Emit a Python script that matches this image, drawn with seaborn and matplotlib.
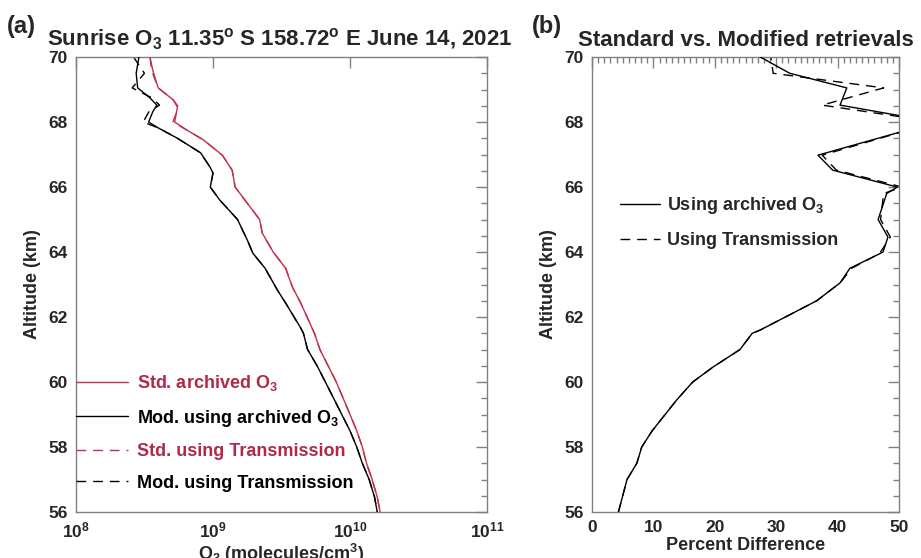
import numpy as np
import matplotlib
matplotlib.use("Agg")
import matplotlib.pyplot as plt
import seaborn as sns
from matplotlib.ticker import MultipleLocator, FixedLocator, FuncFormatter, NullLocator

# ---- panel (a): O3 number density profiles (molecules/cm^3) ----
alt_mod = [70.0, 69.5, 69.05, 68.74, 68.52, 68.31, 68.0, 67.82, 67.5, 67.05,
           66.6, 66.43, 66.0, 65.6, 65.0, 64.37, 63.97, 63.5, 62.83, 62.43,
           61.66, 61.5, 61.0, 60.5, 60.0, 59.5, 59.0, 58.5, 58.0, 57.5,
           57.0, 56.46, 56.0]
mod_archived = [2.88e8, 2.75e8, 2.82e8, 3.47e8, 3.89e8, 3.63e8, 3.39e8, 3.98e8, 5.50e8, 8.13e8,
                9.55e8, 1.00e9, 9.55e8, 1.12e9, 1.51e9, 1.78e9, 1.95e9, 2.40e9, 2.95e9, 3.39e9,
                4.37e9, 4.57e9, 4.90e9, 5.75e9, 6.61e9, 7.59e9, 8.71e9, 1.00e10, 1.12e10, 1.23e10,
                1.38e10, 1.51e10, 1.58e10]
mod_transmission = [2.63e8, 3.16e8, 2.57e8, 3.60e8, 4.07e8, 3.40e8, 3.09e8, 3.98e8, 5.50e8, 8.13e8,
                    9.55e8, 1.00e9, 9.55e8, 1.12e9, 1.51e9, 1.78e9, 1.95e9, 2.40e9, 2.95e9, 3.39e9,
                    4.37e9, 4.57e9, 4.90e9, 5.75e9, 6.61e9, 7.59e9, 8.71e9, 1.00e10, 1.12e10, 1.23e10,
                    1.38e10, 1.51e10, 1.58e10]

alt_std = [70.0, 69.6, 69.05, 68.68, 68.46, 68.0, 67.75, 67.45, 66.98, 66.52,
           66.0, 65.5, 65.0, 64.58, 64.0, 63.5, 62.92, 62.43, 61.5, 61.0,
           60.5, 60.0, 59.5, 59.0, 58.5, 58.0, 57.5, 57.0, 56.46, 56.0]
std_archived = [3.47e8, 3.63e8, 3.98e8, 5.13e8, 5.50e8, 5.25e8, 6.46e8, 8.51e8, 1.17e9, 1.38e9,
                1.45e9, 1.78e9, 2.19e9, 2.29e9, 2.75e9, 3.39e9, 3.80e9, 4.37e9, 5.50e9, 6.03e9,
                6.92e9, 7.94e9, 8.91e9, 1.00e10, 1.12e10, 1.23e10, 1.32e10, 1.45e10, 1.58e10, 1.66e10]
std_transmission = [3.47e8, 3.55e8, 3.98e8, 5.13e8, 5.60e8, 5.10e8, 6.46e8, 8.51e8, 1.17e9, 1.38e9,
                    1.45e9, 1.78e9, 2.19e9, 2.29e9, 2.75e9, 3.39e9, 3.80e9, 4.37e9, 5.50e9, 6.03e9,
                    6.92e9, 7.94e9, 8.91e9, 1.00e10, 1.12e10, 1.23e10, 1.32e10, 1.45e10, 1.58e10, 1.66e10]

# ---- panel (b): percent difference standard vs modified ----
alt_pd = [70.2, 69.5, 69.05, 68.52, 68.0, 66.98, 66.52, 66.0, 65.8, 65.0,
          64.46, 64.0, 63.85, 63.5, 63.05, 62.5, 61.6, 61.5, 61.0, 60.46,
          60.0, 59.45, 58.5, 58.0, 57.5, 57.0, 56.0]
pd_archived = [25.5, 32.2, 41.5, 40.4, 56.0, 36.8, 39.2, 49.7, 48.0, 46.6,
               48.2, 47.4, 45.8, 42.0, 40.4, 36.6, 27.4, 26.1, 24.1, 19.7,
               16.4, 13.8, 9.8, 8.1, 7.3, 5.7, 4.3]
pd_transmission = [29.0, 29.5, 47.5, 37.5, 56.0, 37.5, 39.8, 50.5, 47.5, 47.0,
                   48.6, 47.0, 45.8, 42.3, 40.4, 36.6, 27.4, 26.1, 24.1, 19.7,
                   16.4, 13.8, 9.8, 8.1, 7.3, 5.7, 4.3]

RED = "#c0304c"
RED_TXT = "#b02a47"
GRAY = "#808080"
DASH = (0, (7, 5))

sns.set_style("white")
plt.rcParams["font.family"] = ["Liberation Sans", "DejaVu Sans"]
plt.rcParams["font.weight"] = "bold"
plt.rcParams["mathtext.fontset"] = "custom"
plt.rcParams["mathtext.rm"] = "Liberation Sans:bold"
plt.rcParams["mathtext.it"] = "Liberation Sans:bold"
plt.rcParams["mathtext.bf"] = "Liberation Sans:bold"

fig = plt.figure(figsize=(9.21, 5.58), dpi=100)
ax1 = fig.add_axes([0.0825, 0.0824, 0.4463, 0.8154])
ax2 = fig.add_axes([0.6428, 0.0824, 0.3333, 0.8154])

# panel (a)
ax1.set_xscale("log")
sns.lineplot(x=std_archived, y=alt_std, sort=False, estimator=None, color=RED,
             lw=1, ax=ax1, label="Std. archived O$_3$", zorder=3)
sns.lineplot(x=mod_archived, y=alt_mod, sort=False, estimator=None, color="black",
             lw=1, ax=ax1, label="Mod. using archived O$_3$", zorder=3)
sns.lineplot(x=std_transmission, y=alt_std, sort=False, estimator=None, color=RED,
             lw=1, ls=DASH, ax=ax1, label="Std. using Transmission", zorder=2)
sns.lineplot(x=mod_transmission, y=alt_mod, sort=False, estimator=None, color="black",
             lw=1, ls=DASH, ax=ax1, label="Mod. using Transmission", zorder=2)

ax1.set_xlim(1e8, 1e11)
ax1.set_ylim(56, 70)
ax1.xaxis.set_major_locator(FixedLocator([1e8, 1e9, 1e10, 1e11]))
ax1.xaxis.set_minor_locator(NullLocator())
ax1.xaxis.set_major_formatter(FuncFormatter(lambda v, p: f"$10^{{{int(round(np.log10(v)))}}}$"))
ax1.set_title("Sunrise O$_3$ 11.35$^o$ S 158.72$^o$ E June 14, 2021",
              fontsize=16, fontweight="bold", pad=8, x=0.496)
ax1.set_xlabel("O$_3$ (molecules/cm$^3$)", fontsize=13, fontweight="bold", labelpad=1)
ax1.legend(loc="upper left", bbox_to_anchor=(0.0, 0.305), frameon=False,
           handlelength=2.9, handletextpad=0.5, labelspacing=0.8,
           borderpad=0, borderaxespad=0, fontsize=13,
           labelcolor=[RED_TXT, "black", RED_TXT, "black"])

# panel (b)
sns.lineplot(x=pd_archived, y=alt_pd, sort=False, estimator=None, color="black",
             lw=1, ax=ax2, label="Using archived O$_3$", zorder=3)
sns.lineplot(x=pd_transmission, y=alt_pd, sort=False, estimator=None, color="black",
             lw=1, ls=DASH, ax=ax2, label="Using Transmission", zorder=2)
ax2.set_xlim(0, 50)
ax2.set_ylim(56, 70)
ax2.xaxis.set_major_locator(MultipleLocator(10))
ax2.xaxis.set_minor_locator(MultipleLocator(1))
ax2.set_title("Standard vs. Modified retrievals", fontsize=16, fontweight="bold", pad=8)
ax2.set_xlabel("Percent Difference", fontsize=13, fontweight="bold", labelpad=1)
ax2.legend(loc="upper left", bbox_to_anchor=(0.091, 0.697), frameon=False,
           handlelength=2.2, handletextpad=0.4, labelspacing=0.9,
           borderpad=0, borderaxespad=0, fontsize=13)

for ax in (ax1, ax2):
    ax.yaxis.set_major_locator(MultipleLocator(2))
    ax.yaxis.set_minor_locator(MultipleLocator(0.5))
    ax.set_ylabel("Altitude (km)", fontsize=13, fontweight="bold", labelpad=5)
    ax.tick_params(which="both", direction="in", top=True, right=True, color=GRAY,
                   labelsize=12.5, width=1)
    ax.tick_params(which="major", length=8, pad=6)
    ax.tick_params(which="minor", length=4)
    for lab in ax.get_xticklabels() + ax.get_yticklabels():
        lab.set_fontweight("bold")
    for sp in ax.spines.values():
        sp.set_color(GRAY)
        sp.set_linewidth(1)

fig.text(0.008, 0.952, "(a)", fontsize=17, fontweight="bold", va="center")
fig.text(0.578, 0.952, "(b)", fontsize=17, fontweight="bold", va="center")

fig.savefig("out.png", dpi=100)
